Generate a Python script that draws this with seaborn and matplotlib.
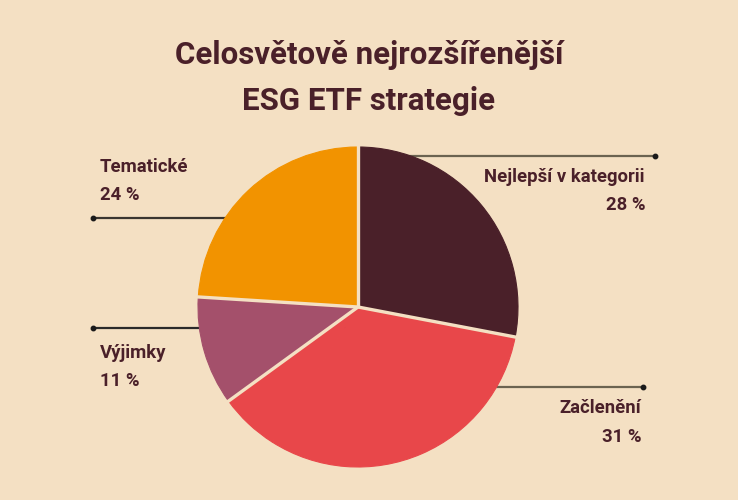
import matplotlib
matplotlib.use("Agg")
import matplotlib.pyplot as plt
import seaborn as sns
import numpy as np

# ---- data ----
categories = ["Nejlepší v kategorii", "Začlenění", "Výjimky", "Tematické"]
shares = [28, 31, 11, 24]            # labelled shares (%)
unlabelled_share = 6                  # drawn together with "Začlenění" in the reference
title_lines = ["Celosvětově nejrozšířenější", "ESG ETF strategie"]

# ---- style ----
BG = "#f4e0c3"
TXT = "#4a2029"
colors = ["#4a2029", "#e8474a", "#a4506b", "#f29300"]
LINE = "#6b6350"

sns.set_theme(style="white")
plt.rcParams["font.family"] = ["Roboto", "DejaVu Sans"]

fig = plt.figure(figsize=(7.38, 5.0), dpi=100, facecolor=BG)
ax = fig.add_axes([0, 0, 1, 1])
ax.set_facecolor(BG)

cx, cy, R = 358, 193, 160

# pie values: the unlabelled share follows Začlenění with the same colour
values = [shares[0], shares[1], unlabelled_share, shares[2], shares[3]]
wcolors = [colors[0], colors[1], colors[1], colors[2], colors[3]]
wedges, _ = ax.pie(values, colors=wcolors, startangle=90, counterclock=False,
                   center=(cx, cy), radius=R, frame=True,
                   wedgeprops=dict(linewidth=0.8, antialiased=True))
for w, c in zip(wedges, wcolors):
    w.set_edgecolor(c)
    w.set_zorder(2)
ax.set_xlim(0, 738)
ax.set_ylim(0, 500)
ax.set_aspect("equal")
ax.axis("off")

# separators between labelled categories
group_sizes = [shares[0], shares[1] + unlabelled_share, shares[2], shares[3]]
total = sum(values)
ang = 90.0
for s in group_sizes:
    a = np.deg2rad(ang)
    ax.plot([cx, cx + R * 1.02 * np.cos(a)], [cy, cy + R * 1.02 * np.sin(a)],
            color=BG, lw=2.4, zorder=3, solid_capstyle="butt")
    ang -= s / total * 360

# leader lines (behind pie) with end dots
leaders = [
    (344, 655, LINE),        # Nejlepší
    (113, 643, LINE),        # Začlenění
    (172, 93, "#2a2a2a"),    # Výjimky
    (282, 93, "#3a3530"),    # Tematické
]
for (ly, lx, lc) in leaders:
    ax.plot([cx, lx], [ly, ly], color=lc, lw=1.6, zorder=1)
    ax.plot([lx], [ly], "o", color="#1a1a1a", ms=3.2, zorder=1)

# labels
lab_pos = [
    (645, 323, "right"),
    (641, 92, "right"),
    (100, 147, "left"),
    (100, 333, "left"),
]
for (cat, sh, (tx, ty, ha)) in zip(categories, shares, lab_pos):
    ax.text(tx, ty, cat, ha=ha, va="center", fontsize=13.3, fontweight="bold", color=TXT)
    ax.text(tx, ty - 28.5, f"{sh} %", ha=ha, va="center", fontsize=13.3,
            fontweight="bold", color=TXT)

# title
ax.text(369, 445, title_lines[0], ha="center", va="center", fontsize=22.5,
        fontweight="bold", color=TXT)
ax.text(369, 399, title_lines[1], ha="center", va="center", fontsize=22.5,
        fontweight="bold", color=TXT)

fig.savefig("out.png", dpi=100, facecolor=BG)
